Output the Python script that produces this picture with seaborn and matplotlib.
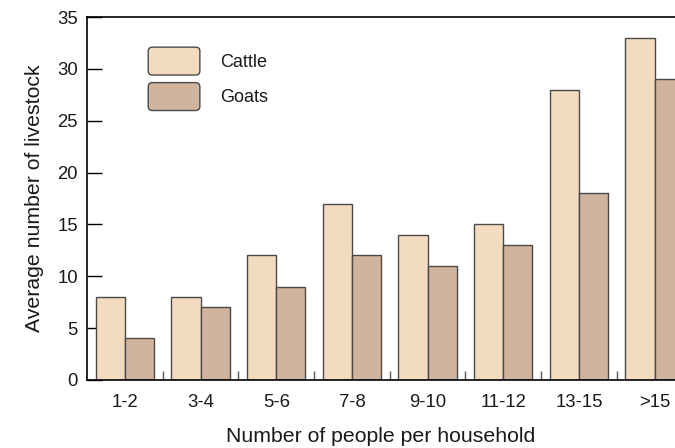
import matplotlib
matplotlib.use('Agg')
import matplotlib.pyplot as plt
from matplotlib.patches import FancyBboxPatch
from matplotlib.legend_handler import HandlerPatch
import pandas as pd
import seaborn as sns

# data
groups = ['1-2', '3-4', '5-6', '7-8', '9-10', '11-12', '13-15', '>15']
cattle = [8, 8, 12, 17, 14, 15, 28, 33]
goats = [4, 7, 9, 12, 11, 13, 18, 29]

df = pd.DataFrame({
    'household': groups * 2,
    'animal': ['Cattle'] * len(groups) + ['Goats'] * len(groups),
    'count': cattle + goats,
})

sns.set_style('white')
plt.rcParams['font.family'] = ['Liberation Sans', 'DejaVu Sans']
plt.rcParams['text.color'] = '#1a1a1a'
plt.rcParams['axes.labelcolor'] = '#1a1a1a'
plt.rcParams['xtick.color'] = '#1a1a1a'
plt.rcParams['ytick.color'] = '#1a1a1a'

fig = plt.figure(figsize=(6.75, 4.48), dpi=100)
ax = fig.add_axes([0.129, 0.152, 0.871, 0.810])

pal = {'Cattle': '#f3dbc0', 'Goats': '#d1b49d'}
sns.barplot(data=df, x='household', y='count', hue='animal', palette=pal,
            width=0.77, edgecolor='#4a4a4a', linewidth=1.0, saturation=1,
            errorbar=None, ax=ax)

ax.set_xlim(-0.5, 7.27)
ax.set_ylim(0, 35)
ax.set_yticks(range(0, 36, 5))
ax.set_xticks(range(len(groups)))
ax.set_xticklabels(groups)
ax.set_xticks([i + 0.5 for i in range(len(groups) - 1)], minor=True)

ax.tick_params(axis='y', left=True, direction='in', length=11, width=1,
               color='black', labelsize=13.3, pad=6.5)
ax.tick_params(axis='x', which='major', length=0, labelsize=13.3, pad=10)
ax.tick_params(axis='x', which='minor', direction='in', length=6.5,
               width=1, color='#555555', bottom=True)

for s in ['left', 'bottom', 'top']:
    ax.spines[s].set_visible(True)
    ax.spines[s].set_color('black')
    ax.spines[s].set_linewidth(1.2)
ax.spines['right'].set_visible(False)

ax.set_xlabel('Number of people per household', fontsize=15.3, labelpad=11.5)
ax.set_ylabel('Average number of livestock', fontsize=15.3, labelpad=9.5)


def rounded(legend, orig_handle, xdescent, ydescent, width, height, fontsize):
    return FancyBboxPatch((-xdescent, -ydescent), width, height,
                          boxstyle='round,pad=0,rounding_size=3')


leg = ax.get_legend()
handles = leg.legend_handles
labels = [t.get_text() for t in leg.get_texts()]
leg.remove()
for h in handles:
    h.set_edgecolor('#4a4a4a')
    h.set_linewidth(1.0)
ax.legend(handles, labels, loc='upper left', bbox_to_anchor=(0.104, 0.917),
          frameon=False, borderpad=0, borderaxespad=0, fontsize=13,
          handlelength=2.86, handleheight=2.0, labelspacing=0.42,
          handletextpad=1.1, handler_map={type(handles[0]): HandlerPatch(patch_func=rounded)})

fig.savefig('out.png', dpi=100)
